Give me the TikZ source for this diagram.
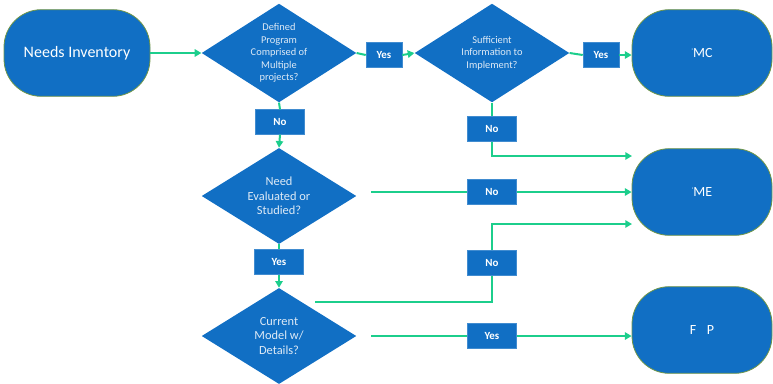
\documentclass[tikz,border=0pt]{standalone}
\usepackage{fontspec}
\setmainfont{Carlito}
\usetikzlibrary{shapes.geometric,arrows.meta,calc}
\definecolor{boxblue}{RGB}{17,111,196}
\definecolor{flowgreen}{RGB}{28,206,140}
\definecolor{termedge}{RGB}{112,150,72}
\definecolor{dtext}{RGB}{222,234,246}
\tikzset{
  term/.style={rectangle, rounded corners=28pt, fill=boxblue, draw=termedge, line width=0.6pt,
    minimum width=105pt, minimum height=65pt, text=white, font=\fontsize{10.5}{12}\selectfont},
  dec/.style={diamond, fill=boxblue, draw=none, inner sep=-8pt, minimum width=116pt, minimum height=74pt,
    text=dtext, align=center},
  lab/.style={rectangle, fill=boxblue, draw=boxblue!80!white, line width=0.4pt, text=white,
    font=\fontsize{8.2}{9}\bfseries\selectfont, minimum width=36.5pt, minimum height=18.5pt, inner sep=0pt},
  ylab/.style={lab, minimum width=27pt},
  flow/.style={draw=flowgreen, line width=1.5pt},
  arr/.style={flow, -{Triangle[length=5pt,width=5.5pt]}},
}
\begin{document}
\begin{tikzpicture}[x=0.75pt,y=-0.75pt]
\useasboundingbox (0,0) rectangle (773,383);
% terminals
\node[term, minimum width=109.5pt, font=\fontsize{12}{14}\selectfont] (ni) at (77,53) {Needs Inventory};
\node[term] (t1) at (702,53) {\raisebox{3pt}{\fontsize{5}{5}\selectfont'}MC};
\node[term] (t2) at (702,192) {\raisebox{3pt}{\fontsize{5}{5}\selectfont'}ME};
\node[term] (t3) at (702,330) {F\hspace{8pt}P};
% decisions
\node[dec, font=\fontsize{7.8}{9.3}\selectfont] (d1) at (279,53) {Defined\\Program\\Comprised of\\Multiple\\projects?};
\node[dec, font=\fontsize{7.8}{9.3}\selectfont] (d2) at (492,53) {Sufficient\\Information to\\Implement?};
\node[dec, minimum height=72pt, font=\fontsize{9.3}{11}\selectfont] (d3) at (279,196) {Need\\Evaluated or\\Studied?};
\node[dec, minimum height=72pt, font=\fontsize{9.3}{11}\selectfont] (d4) at (279,336) {Current\\Model w/\\Details?};
% labels
\node[ylab] (y1) at (384,55) {Yes};
\node[ylab] (y2) at (601,55) {Yes};
\node[lab] (n1) at (280,122) {No};
\node[lab] (y3) at (279,262) {Yes};
\node[lab] (n2) at (492,129) {No};
\node[lab] (n3) at (492,192) {No};
\node[lab] (n4) at (492,263) {No};
\node[lab] (y5) at (492,336) {Yes};
% free ends
\coordinate (s3) at (371,192);
\coordinate (s4) at (315,302);
\coordinate (s5) at (371,336);
\coordinate (e2a) at (632,156);
\coordinate (e2b) at (632,224);
% connectors
\draw[arr] (ni.east) -- (d1.west);
\draw[flow] (d1.east) -- (y1.west);
\draw[arr] (y1.east) -- (d2.west);
\draw[flow] (d2.east) -- (y2.west);
\draw[arr] (y2.east) -- (y2.east -| t1.west);
\draw[flow] (d1.south) -- (n1.north);
\draw[arr] (n1.south) -- (d3.north);
\draw[flow] (d3.south) -- (y3.north);
\draw[arr] (y3.south) -- (d4.north);
\draw[flow] (d2.south) -- (n2.north);
\draw[arr] (n2.south) |- (e2a);
\draw[flow] (s3) -- (n3.west);
\draw[arr] (n3.east) -- (t2.west);
\draw[flow] (s4) -| (n4.south);
\draw[arr] (n4.north) |- (e2b);
\draw[flow] (s5) -- (y5.west);
\draw[arr] (y5.east) -- (y5.east -| t3.west);
\end{tikzpicture}
\end{document}
